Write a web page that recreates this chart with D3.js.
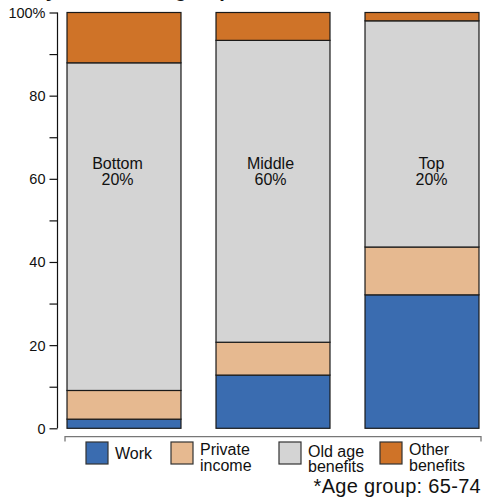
<!DOCTYPE html>
<html><head><meta charset="utf-8">
<script src="https://cdn.jsdelivr.net/npm/d3@7"></script>
<style>
body{margin:0;background:#fff;}
svg{display:block;}
</style></head>
<body>
<svg id="c" width="483" height="499"></svg>
<script>
const groups = ["Bottom\n20%", "Middle\n60%", "Top\n20%"];
const seriesNames = ["Work", "Private income", "Old age benefits", "Other benefits"];
const work     = [2.2, 12.8, 32.1];
const privateI = [6.9, 7.9, 11.5];
const oldAge   = [78.8, 72.6, 54.4];
const other    = [12.1, 6.7, 2.0];
const yTicks = [0, 20, 40, 60, 80, 100];
const yTickLabels = ["0", "20", "40", "60", "80", "100%"];
const legendLabels = [["Work"], ["Private", "income"], ["Old age", "benefits"], ["Other", "benefits"]];
const footnote = "*Age group: 65-74";
const title = "Income by source and group";

const colors = ["#3A6CB0", "#E6B990", "#D4D4D4", "#CF7328"];
const svg = d3.select("#c");

const y = d3.scaleLinear().domain([0, 100]).range([428.3, 12.5]);
const x = d3.scaleBand().domain(groups).range([49.5, 496.5]).paddingInner(0.235).paddingOuter(0.1175);

// title (cropped at top, only descender tips visible as in the reference)
svg.append("text").attr("x", -42).attr("y", -3.5)
  .attr("font-family", "Liberation Sans, Arial, sans-serif").attr("font-weight", "bold")
  .attr("font-size", 20).attr("fill", "#111").text(title);

// stacked data
const table = groups.map((g, i) => ({group: g, s0: work[i], s1: privateI[i], s2: oldAge[i], s3: other[i]}));
const stack = d3.stack().keys(["s0", "s1", "s2", "s3"])(table);

svg.append("g").selectAll("g").data(stack).join("g")
  .attr("fill", (d, i) => colors[i])
  .selectAll("rect").data(d => d).join("rect")
  .attr("x", d => x(d.data.group))
  .attr("width", x.bandwidth())
  .attr("y", d => y(d[1]))
  .attr("height", d => y(d[0]) - y(d[1]))
  .attr("stroke", "#1a1a1a").attr("stroke-width", 1.2);

// bar labels
const labelDx = [-6.5, -2.5, 9.5];
const lab = svg.append("g").attr("font-family", "Liberation Sans, Arial, sans-serif")
  .attr("font-size", 16).attr("fill", "#111").attr("text-anchor", "middle");
groups.forEach((g, i) => {
  const lines = g.split("\n");
  const cx = x(g) + x.bandwidth() / 2 + labelDx[i];
  const t = lab.append("text").attr("x", cx).attr("y", 169);
  lines.forEach((l, j) => t.append("tspan").attr("x", cx).attr("dy", j ? 16 : 0).text(l));
});

// y axis
const axisX = 57.5;
const yAxis = d3.axisLeft(y).tickValues(d3.range(0, 101, 10)).tickSize(8).tickPadding(4)
  .tickFormat(d => { const k = yTicks.indexOf(d); return k >= 0 ? yTickLabels[k] : ""; });
const ga = svg.append("g").attr("transform", `translate(${axisX},0)`).call(yAxis);
ga.select(".domain").attr("d", `M0,${y(100)}V${y(0)}`).attr("stroke", "#111").attr("stroke-width", 1.2);
ga.selectAll(".tick line").attr("stroke", "#111").attr("stroke-width", 1.2);
ga.selectAll(".tick text").attr("font-family", "Liberation Sans Narrow, Arial Narrow, Liberation Sans, sans-serif")
  .attr("font-size", 14.5).attr("fill", "#111").attr("dy", "0.34em");

// x bracket
svg.append("path").attr("d", `M65,441.5V436.7H481V441.5`).attr("fill", "none")
  .attr("stroke", "#777").attr("stroke-width", 1.3);

// legend
const boxX = [86, 171, 279, 380];
const lg = svg.append("g").attr("font-family", "Liberation Sans, Arial, sans-serif").attr("font-size", 16).attr("fill", "#111");
seriesNames.forEach((n, i) => {
  lg.append("rect").attr("x", boxX[i]).attr("y", 442).attr("width", 22).attr("height", 22)
    .attr("fill", colors[i]).attr("stroke", "#333").attr("stroke-width", 1.2);
  const lines = legendLabels[i];
  const tx = boxX[i] + 29;
  if (lines.length === 1) {
    lg.append("text").attr("x", tx).attr("y", 458.5).text(lines[0]);
  } else {
    const base = i === 2 ? 456.5 : 455;
    const t = lg.append("text").attr("x", tx).attr("y", base);
    lines.forEach((l, j) => t.append("tspan").attr("x", tx).attr("dy", j ? 15.5 : 0).text(l));
  }
});

// footnote
svg.append("text").attr("x", 481).attr("y", 493).attr("text-anchor", "end")
  .attr("font-family", "Liberation Sans, Arial, sans-serif").attr("font-size", 20).attr("fill", "#111")
  .attr("letter-spacing", 0.3)
  .text(footnote);
</script>
</body></html>
